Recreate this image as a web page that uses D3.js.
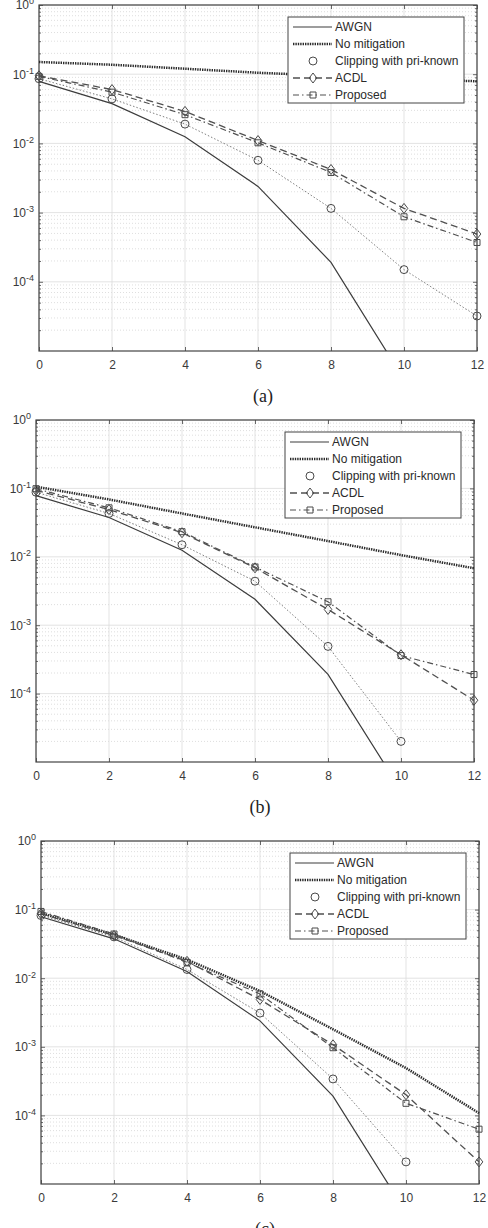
<!DOCTYPE html>
<html>
<head>
<meta charset="utf-8">
<script src="https://cdn.jsdelivr.net/npm/d3@7"></script>
<style>
  body { margin: 0; background: #fff; }
  svg { display: block; }
  .tick text { font-family: "Liberation Sans", Arial, sans-serif; font-size: 12px; fill: #3a3a3a; }
  .legend text { font-family: "Liberation Sans", Arial, sans-serif; font-size: 12px; fill: #2a2a2a; }
  .caption { font-family: "Liberation Serif", "Times New Roman", serif; font-size: 18px; fill: #222; }
</style>
</head>
<body>
<svg id="chart"></svg>
<script>
// SNR points (x axis)
const snr = [0, 2, 4, 6, 8, 10, 12];
const xTicks = [0, 2, 4, 6, 8, 10, 12];
const yTicks = [1e-4, 1e-3, 1e-2, 1e-1, 1];

// AWGN reference curve, same in all three panels
const awgn = [0.0786, 0.0375, 0.0125, 0.00239, 0.000191, 3.87e-6, 9.0e-9];

// panel (a)
const noMitA = [0.15, 0.137, 0.12, 0.105, 0.095, 0.086, 0.079];
const clipA = [0.086, 0.044, 0.019, 0.0057, 0.00115, 0.00015, 0.000032];
const acdlA = [0.095, 0.06, 0.029, 0.011, 0.0042, 0.00115, 0.00049];
const propA = [0.093, 0.055, 0.026, 0.0102, 0.0038, 0.00087, 0.00037];

// panel (b)
const noMitB = [0.106, 0.069, 0.043, 0.027, 0.017, 0.0106, 0.0068];
const clipB = [0.088, 0.043, 0.015, 0.0044, 0.00049, 0.00002];
const acdlB = [0.094, 0.049, 0.0225, 0.0069, 0.0017, 0.00037, 0.00008];
const propB = [0.099, 0.052, 0.0233, 0.0071, 0.0022, 0.00036, 0.00019];

// panel (c)
const noMitC = [0.089, 0.043, 0.0187, 0.0065, 0.0018, 0.00049, 0.000108];
const clipC = [0.082, 0.040, 0.0134, 0.0031, 0.00034, 0.000021];
const acdlC = [0.087, 0.042, 0.0176, 0.0049, 0.00107, 0.0002, 0.000021];
const propC = [0.094, 0.044, 0.017, 0.0059, 0.00097, 0.00015, 0.000063];

const seriesNames = ['AWGN', 'No mitigation', 'Clipping with pri-known', 'ACDL', 'Proposed'];

const styles = {
  'AWGN': {stroke: '#3c3c3c', width: 1.2, dash: null, marker: null},
  'No mitigation': {stroke: '#2a2a2a', width: 2.5, dash: '1.4,1', marker: null},
  'Clipping with pri-known': {stroke: '#707070', width: 0.9, dash: '1.5,2', marker: 'circle'},
  'ACDL': {stroke: '#505050', width: 1.3, dash: '7,4', marker: 'diamond'},
  'Proposed': {stroke: '#505050', width: 1.2, dash: '6,3,1.5,3', marker: 'square'}
};

const panels = [
  {label: '(a)', left: 39, top: 5, width: 438, height: 346, data: [awgn, noMitA, clipA, acdlA, propA]},
  {label: '(b)', left: 36, top: 420, width: 438, height: 342, data: [awgn, noMitB, clipB, acdlB, propB]},
  {label: '(c)', left: 41, top: 841, width: 438, height: 343, data: [awgn, noMitC, clipC, acdlC, propC]}
];

const svg = d3.select('#chart').attr('width', 488).attr('height', 1228);

function markerPath(type) {
  if (type === 'circle') return d3.symbol(d3.symbolCircle, 50)();
  if (type === 'diamond') return 'M0,-5L3.8,0L0,5L-3.8,0Z';
  if (type === 'square') return 'M-3,-3H3V3H-3Z';
  return null;
}

function drawPanel(p, i) {
  const x = d3.scaleLinear().domain([0, 12]).range([0, p.width]);
  const y = d3.scaleLog().domain([1e-5, 1]).range([p.height, 0]);

  const g = svg.append('g').attr('transform', `translate(${p.left},${p.top})`);

  // clip lines to the plot box vertically
  g.append('clipPath').attr('id', 'clip' + i)
    .append('rect').attr('x', -10).attr('y', 0).attr('width', p.width + 20).attr('height', p.height);

  // minor grid (dotted)
  const minor = [];
  for (let e = -5; e < 0; e++) for (let m = 2; m <= 9; m++) minor.push(m * Math.pow(10, e));
  g.selectAll('.minor').data(minor).join('line')
    .attr('x1', 0).attr('x2', p.width)
    .attr('y1', d => y(d)).attr('y2', d => y(d))
    .attr('stroke', '#c8c8c8').attr('stroke-width', 0.6).attr('stroke-dasharray', '1,2');

  // major grid
  g.selectAll('.hmajor').data(yTicks).join('line')
    .attr('x1', 0).attr('x2', p.width)
    .attr('y1', d => y(d)).attr('y2', d => y(d))
    .attr('stroke', '#dcdcdc').attr('stroke-width', 0.8);
  g.selectAll('.vmajor').data(xTicks).join('line')
    .attr('x1', d => x(d)).attr('x2', d => x(d))
    .attr('y1', 0).attr('y2', p.height)
    .attr('stroke', '#dcdcdc').attr('stroke-width', 0.8);

  // axes (ticks point inward, MATLAB style)
  const xAxis = d3.axisBottom(x).tickValues(xTicks).tickSize(-4).tickPadding(9).tickFormat(d3.format('d'));
  const xTop = d3.axisTop(x).tickValues(xTicks).tickSize(-4).tickFormat('');
  const yAxis = d3.axisLeft(y).tickValues(yTicks).tickSize(-4).tickPadding(5);
  const yRight = d3.axisRight(y).tickValues(yTicks).tickSize(-4).tickFormat('');
  const yMinorL = d3.axisLeft(y).tickValues(minor).tickSize(-2).tickFormat('');
  const yMinorR = d3.axisRight(y).tickValues(minor).tickSize(-2).tickFormat('');

  g.append('g').attr('transform', `translate(0,${p.height})`).call(xAxis);
  g.append('g').call(xTop);
  const yG = g.append('g').call(yAxis);
  g.append('g').attr('transform', `translate(${p.width},0)`).call(yRight);
  g.append('g').call(yMinorL);
  g.append('g').attr('transform', `translate(${p.width},0)`).call(yMinorR);

  yG.selectAll('.tick text').each(function(d) {
    const t = d3.select(this).text('');
    t.append('tspan').text('10');
    t.append('tspan').attr('dy', -5).attr('font-size', 9).text(Math.round(Math.log10(d)));
  });

  g.selectAll('.domain').attr('stroke', 'none');
  g.selectAll('.tick line').attr('stroke', '#444').attr('stroke-width', 0.8);

  // box
  g.append('rect').attr('width', p.width).attr('height', p.height)
    .attr('fill', 'none').attr('stroke', '#444').attr('stroke-width', 1.2);

  // series
  const plot = g.append('g');
  seriesNames.forEach((name, k) => {
    const st = styles[name];
    const pts = p.data[k].map((v, j) => ({x: snr[j], y: v}));
    const line = d3.line().x(d => x(d.x)).y(d => y(d.y));
    plot.append('path').datum(pts)
      .attr('clip-path', `url(#clip${i})`)
      .attr('d', line)
      .attr('fill', 'none')
      .attr('stroke', st.stroke)
      .attr('stroke-width', st.width)
      .attr('stroke-dasharray', st.dash);
    if (st.marker) {
      plot.selectAll('.m' + k).data(pts.filter(d => d.y >= 1e-5)).join('path')
        .attr('transform', d => `translate(${x(d.x)},${y(d.y)})`)
        .attr('d', markerPath(st.marker))
        .attr('fill', 'none').attr('stroke', '#4a4a4a').attr('stroke-width', 1);
    }
  });

  // legend
  const lg = g.append('g').attr('class', 'legend').attr('transform', 'translate(249,12)');
  lg.append('rect').attr('width', 176).attr('height', 86)
    .attr('fill', '#fff').attr('stroke', '#444').attr('stroke-width', 1);
  seriesNames.forEach((name, k) => {
    const st = styles[name];
    const ry = 10 + k * 17;
    if (name !== 'Clipping with pri-known') {
      lg.append('line').attr('x1', 5).attr('x2', 44).attr('y1', ry).attr('y2', ry)
        .attr('stroke', st.stroke).attr('stroke-width', st.width).attr('stroke-dasharray', st.dash);
    }
    if (st.marker) {
      lg.append('path').attr('transform', `translate(25,${ry})`)
        .attr('d', markerPath(st.marker))
        .attr('fill', 'none').attr('stroke', '#4a4a4a').attr('stroke-width', 1);
    }
    lg.append('text').attr('x', 47).attr('y', ry).attr('dy', '0.35em').text(name);
  });

  // caption
  svg.append('text').attr('class', 'caption')
    .attr('x', p.left + p.width / 2 + 5).attr('y', p.top + p.height + 51)
    .attr('text-anchor', 'middle').text(p.label);
}

panels.forEach(drawPanel);
</script>
</body>
</html>
